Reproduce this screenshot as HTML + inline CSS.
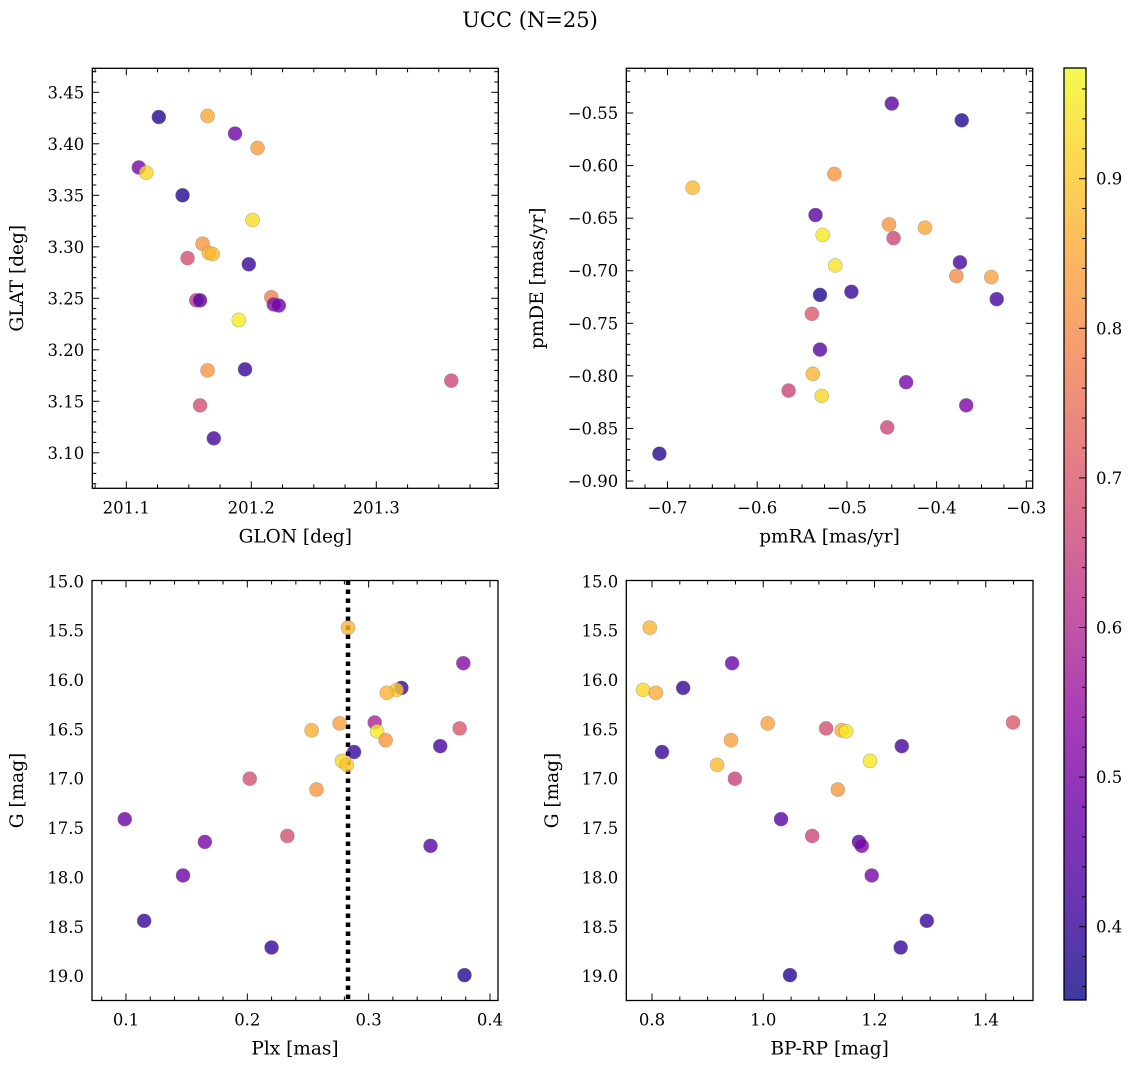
<!DOCTYPE html>
<html><head><meta charset="utf-8">
<style>
html,body{margin:0;padding:0;background:#fff;}
svg{display:block;font-family:"DejaVu Serif","Liberation Serif",serif;}
</style></head>
<body>
<svg id="fig" width="1136" height="1067" viewBox="0 0 1136 1067" xmlns="http://www.w3.org/2000/svg">
<text x="530" y="27" text-anchor="middle" font-size="21">UCC (N=25)</text>
</svg>
<script>
// ---- data: top-left (GLON/GLAT)
const tlGlon=[201.110,201.126,201.116,201.145,201.165,201.187,201.205,201.201,201.161,201.149,201.166,201.169,201.198,201.216,201.218,201.222,201.156,201.159,201.190,201.165,201.195,201.159,201.170,201.360];
const tlGlat=[3.377,3.426,3.372,3.350,3.427,3.410,3.396,3.326,3.303,3.289,3.294,3.293,3.283,3.251,3.244,3.243,3.248,3.248,3.229,3.180,3.181,3.146,3.114,3.170];
const tlColor=[0.50,0.38,0.92,0.38,0.85,0.48,0.83,0.93,0.82,0.68,0.87,0.88,0.40,0.78,0.52,0.48,0.62,0.45,0.96,0.82,0.40,0.68,0.42,0.66];
// ---- data: top-right (pmRA/pmDE)
const trPmra=[-0.450,-0.372,-0.514,-0.672,-0.535,-0.453,-0.413,-0.527,-0.448,-0.513,-0.374,-0.378,-0.339,-0.333,-0.530,-0.495,-0.539,-0.530,-0.434,-0.538,-0.565,-0.528,-0.367,-0.455,-0.709];
const trPmde=[-0.541,-0.557,-0.608,-0.621,-0.647,-0.656,-0.659,-0.666,-0.669,-0.695,-0.692,-0.705,-0.706,-0.727,-0.723,-0.720,-0.741,-0.775,-0.806,-0.798,-0.814,-0.819,-0.828,-0.849,-0.874];
const trColor=[0.45,0.38,0.82,0.88,0.45,0.82,0.85,0.95,0.66,0.94,0.42,0.80,0.84,0.42,0.37,0.40,0.70,0.45,0.50,0.87,0.66,0.92,0.50,0.66,0.38];
// ---- data: bottom-left (Plx/G)
const blPlx=[0.283,0.378,0.327,0.323,0.315,0.305,0.276,0.253,0.307,0.375,0.314,0.359,0.288,0.278,0.282,0.202,0.257,0.099,0.233,0.165,0.351,0.147,0.115,0.220,0.379];
const blG=[15.47,15.83,16.08,16.10,16.13,16.43,16.44,16.51,16.52,16.49,16.61,16.67,16.73,16.82,16.86,17.00,17.11,17.41,17.58,17.64,17.68,17.98,18.44,18.71,18.99];
const blColor=[0.87,0.52,0.40,0.90,0.87,0.58,0.84,0.86,0.95,0.70,0.82,0.42,0.40,0.92,0.90,0.68,0.82,0.48,0.68,0.50,0.45,0.48,0.40,0.40,0.38];
const plxRef=[0.283];
// ---- data: bottom-right (BP-RP/G)
const brBprp=[0.796,0.784,0.807,0.856,0.818,0.944,1.008,0.942,0.949,0.917,1.032,1.088,1.113,1.141,1.149,1.134,1.192,1.172,1.177,1.195,1.249,1.294,1.247,1.048,1.449];
const brG=[15.47,16.10,16.13,16.08,16.73,15.83,16.44,16.61,17.00,16.86,17.41,17.58,16.49,16.51,16.52,17.11,16.82,17.64,17.68,17.98,16.67,18.44,18.71,18.99,16.43];
const brColor=[0.87,0.92,0.86,0.40,0.40,0.48,0.84,0.84,0.65,0.88,0.45,0.66,0.68,0.86,0.95,0.82,0.95,0.45,0.50,0.50,0.42,0.40,0.40,0.38,0.70];
// ---- tick labels
const tlXTicks=[201.1,201.2,201.3];
const tlYTicks=[3.10,3.15,3.20,3.25,3.30,3.35,3.40,3.45];
const trXTicks=[-0.7,-0.6,-0.5,-0.4,-0.3];
const trYTicks=[-0.90,-0.85,-0.80,-0.75,-0.70,-0.65,-0.60,-0.55];
const blXTicks=[0.1,0.2,0.3,0.4];
const gTicks=[15.0,15.5,16.0,16.5,17.0,17.5,18.0,18.5,19.0];
const brXTicks=[0.8,1.0,1.2,1.4];
const cbTicks=[0.4,0.5,0.6,0.7,0.8,0.9];

const NS="http://www.w3.org/2000/svg";
const svg=document.getElementById('fig');
const TICKFS=16.5, LABFS=18.5;
function mk(tag,attrs,parent){const e=document.createElementNS(NS,tag);for(const k in attrs)e.setAttribute(k,attrs[k]);(parent||svg).appendChild(e);return e;}
const plasma=[[13,8,135],[65,4,157],[106,0,168],[143,13,164],[177,42,144],[204,71,120],[225,100,98],[242,132,75],[252,166,54],[252,206,37],[240,249,33]];
const CMIN=0.351,CMAX=0.974;
function cmap(v){let t=(v-CMIN)/(CMAX-CMIN);t=Math.max(0,Math.min(1,t));const f=t*10,i=Math.min(9,Math.floor(f)),r=f-i;const a=plasma[i],b=plasma[i+1];return 'rgb('+[0,1,2].map(k=>Math.round(a[k]+(b[k]-a[k])*r)).join(',')+')';}
function fmt(v,d){return (v<0?'\u2212':'')+Math.abs(v).toFixed(d);}

function panel(o){
  const g=mk('g',{});
  
  
  const sx=v=>o.x0+(v-o.xmin)/(o.xmax-o.xmin)*(o.x1-o.x0);
  const sy=v=>o.y1-(v-o.ymin)/(o.ymax-o.ymin)*(o.y1-o.y0);
  const tk=mk('g',{stroke:'#000','stroke-width':1},g);
  
  
  const eps=1e-9;
  for(let v=Math.ceil(o.xmin/o.xminor-eps)*o.xminor;v<=o.xmax+eps;v+=o.xminor){const x=sx(v);
    const isMaj=Math.abs(v/o.xmajor-Math.round(v/o.xmajor))<1e-6;const L=isMaj?7:4;
    mk('line',{x1:x,x2:x,y1:o.y1,y2:o.y1-L},tk);mk('line',{x1:x,x2:x,y1:o.y0,y2:o.y0+L},tk);}
  for(let v=Math.ceil(o.ymin/o.yminor-eps)*o.yminor;v<=o.ymax+eps;v+=o.yminor){const y=sy(v);
    const isMaj=Math.abs(v/o.ymajor-Math.round(v/o.ymajor))<1e-6;const L=isMaj?7:4;
    mk('line',{x1:o.x0,x2:o.x0+L,y1:y,y2:y},tk);mk('line',{x1:o.x1,x2:o.x1-L,y1:y,y2:y},tk);}
  o.xticks.forEach(v=>{const t=mk('text',{x:sx(v),y:o.y1+25,'text-anchor':'middle','font-size':TICKFS},g);t.textContent=fmt(v,o.xd);
    });
  o.yticks.forEach(v=>{const t=mk('text',{x:o.x0-8,y:sy(v)+6,'text-anchor':'end','font-size':TICKFS},g);t.textContent=fmt(v,o.yd);
    });
  const xl=mk('text',{x:(o.x0+o.x1)/2,y:o.y1+54,'text-anchor':'middle','font-size':LABFS},g);xl.textContent=o.xlabel;
  
  const yx=o.ylabx;const yl=mk('text',{x:yx,y:(o.y0+o.y1)/2,'text-anchor':'middle','font-size':LABFS,transform:'rotate(-90 '+yx+' '+(o.y0+o.y1)/2+')'},g);yl.textContent=o.ylabel;
  
  if(o.vline){o.vline.forEach(v=>{const l=mk('line',{x1:sx(v),x2:sx(v),y1:o.y0,y2:o.y1,stroke:'#000','stroke-width':4.5,'stroke-dasharray':'4.5 4.5'},g);
    });}
  o.xs.forEach((v,i)=>{const c=mk('circle',{cx:sx(v),cy:sy(o.ys[i]),r:7,fill:cmap(o.cs[i]),'fill-opacity':0.8,stroke:'#777','stroke-opacity':0.5,'stroke-width':0.6},g);
    });
  const fr=mk('rect',{x:o.x0,y:o.y0,width:o.x1-o.x0,height:o.y1-o.y0,fill:'none',stroke:'#000','stroke-width':1.3},g);
  
}

panel({name:'glon-glat-panel',x0:92.3,x1:498.3,y0:68.3,y1:488.3,xmin:201.0728,xmax:201.3976,ymin:3.0655,ymax:3.4733,
  xmajor:0.1,xminor:0.025,ymajor:0.05,yminor:0.01,xticks:tlXTicks,yticks:tlYTicks,xd:1,yd:2,xlabel:'GLON [deg]',ylabel:'GLAT [deg]',ylabx:23,
  xs:tlGlon,ys:tlGlat,cs:tlColor});
panel({name:'pm-panel',x0:626.3,x1:1032.7,y0:68.3,y1:488.3,xmin:-0.7459,xmax:-0.2929,ymin:-0.9069,ymax:-0.5075,
  xmajor:0.1,xminor:0.025,ymajor:0.05,yminor:0.01,xticks:trXTicks,yticks:trYTicks,xd:1,yd:2,xlabel:'pmRA [mas/yr]',ylabel:'pmDE [mas/yr]',ylabx:543,
  xs:trPmra,ys:trPmde,cs:trColor});
panel({name:'plx-g-panel',x0:92,x1:498,y0:580.5,y1:1000.5,xmin:0.072,xmax:0.4066,ymin:19.247,ymax:14.992,
  xmajor:0.1,xminor:0.02,ymajor:0.5,yminor:0.1,xticks:blXTicks,yticks:gTicks,xd:1,yd:1,xlabel:'Plx [mas]',ylabel:'G [mag]',ylabx:23,
  xs:blPlx,ys:blG,cs:blColor,vline:plxRef});
panel({name:'cmd-panel',x0:626.3,x1:1033,y0:580.5,y1:1000.5,xmin:0.7538,xmax:1.4849,ymin:19.247,ymax:14.992,
  xmajor:0.2,xminor:0.05,ymajor:0.5,yminor:0.1,xticks:brXTicks,yticks:gTicks,xd:1,yd:1,xlabel:'BP-RP [mag]',ylabel:'G [mag]',ylabx:558,
  xs:brBprp,ys:brG,cs:brColor});

(function(){
  const x0=1064,x1=1086,y0=68,y1=1000;
  const g=mk('g',{});
  
  
  const defs=mk('defs',{},g);const lg=mk('linearGradient',{id:'cbg',x1:0,y1:1,x2:0,y2:0},defs);
  plasma.forEach((c,i)=>mk('stop',{offset:(i/10),'stop-color':'rgb('+c.join(',')+')'},lg));
  mk('rect',{x:x0,y:y0,width:x1-x0,height:y1-y0,fill:'url(#cbg)','fill-opacity':0.8},g);
  const sy=v=>y1-(v-CMIN)/(CMAX-CMIN)*(y1-y0);
  for(let v=0.36;v<=CMAX+1e-9;v+=0.02){const y=sy(v);const maj=Math.abs(v*10-Math.round(v*10))<1e-6;
    mk('line',{x1:x1,x2:x1-(maj?7:4),y1:y,y2:y,stroke:'#000','stroke-width':1},g);}
  cbTicks.forEach(v=>{const t=mk('text',{x:x1+10,y:sy(v)+6,'font-size':TICKFS},g);t.textContent=v.toFixed(1);
    });
  mk('rect',{x:x0,y:y0,width:x1-x0,height:y1-y0,fill:'none',stroke:'#000','stroke-width':1.3},g);
})();
</script>
</body></html>
